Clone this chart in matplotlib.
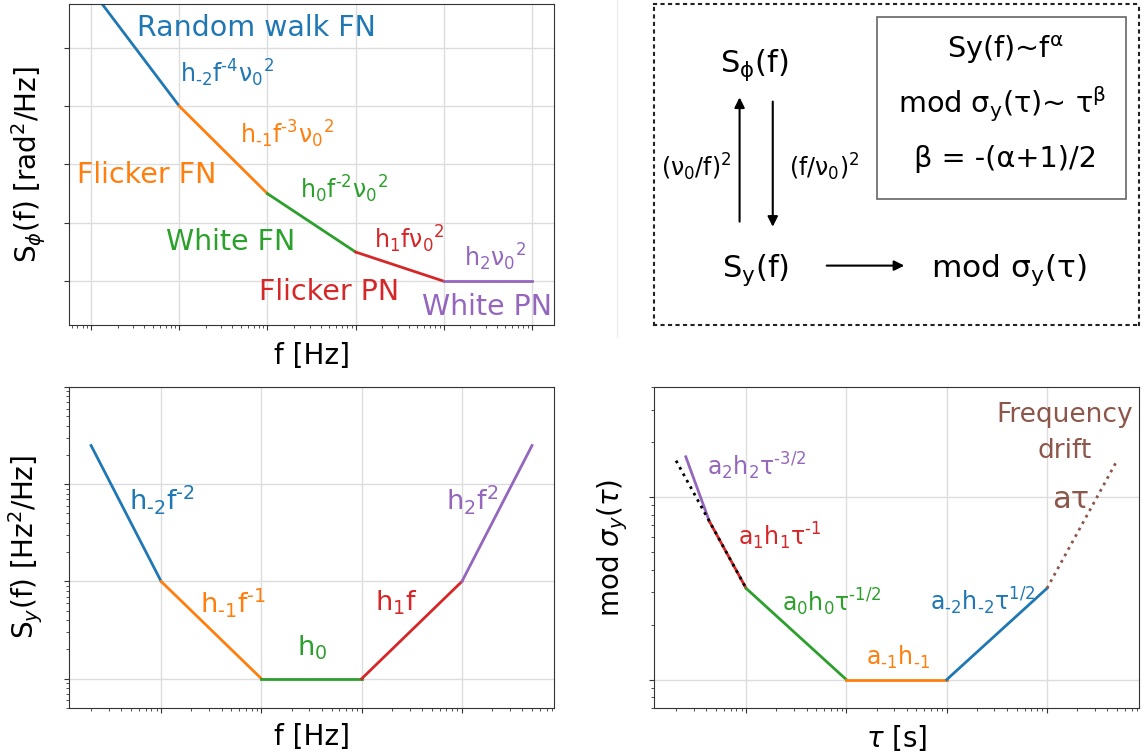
import matplotlib
matplotlib.use('Agg')
import matplotlib.pyplot as plt
from matplotlib.lines import Line2D
from matplotlib.patches import Rectangle
from matplotlib.ticker import NullLocator

# colours of the noise types
colors = ['tab:blue', 'tab:orange', 'tab:green', 'tab:red', 'tab:purple']

# phase noise PSD, corner points (random walk FN ... white PN)
sphi_f = [1, 10, 100, 1000, 1e4, 1e5]
sphi = [1e10, 1e6, 1e3, 10, 1, 1]
sphi_names = ['Random walk FN', 'Flicker FN', 'White FN', 'Flicker PN', 'White PN']
sphi_terms = ['h$_{‐2}$f$^{‐4}$ν$_0$$^2$', 'h$_{‐1}$f$^{‐3}$ν$_0$$^2$',
              'h$_0$f$^{‐2}$ν$_0$$^2$', 'h$_1$fν$_0$$^2$', 'h$_2$ν$_0$$^2$']

# fractional frequency PSD, corner points
sy_f = [0.2, 1, 10, 100, 1000, 5000]
sy = [250, 10, 1, 1, 10, 250]
sy_terms = ['h$_{‐2}$f$^{‐2}$', 'h$_{‐1}$f$^{‐1}$', 'h$_0$', 'h$_1$f', 'h$_2$f$^2$']

# modified Allan deviation, corner points
tau = [0.25, 0.43, 1, 10, 100, 1000]
mdev = [16.6, 7.35, 3.16, 1, 1, 3.16]
mdev_colors = ['tab:purple', 'tab:red', 'tab:green', 'tab:orange', 'tab:blue']
mdev_terms = ['a$_2$h$_2$τ$^{‐3/2}$', 'a$_1$h$_1$τ$^{‐1}$', 'a$_0$h$_0$τ$^{‐1/2}$',
              'a$_{‐1}$h$_{‐1}$', 'a$_{‐2}$h$_{‐2}$τ$^{1/2}$']
# tau^-1 reference line and linear drift
tau_ref = [0.2, 1]
mdev_ref = [15.8, 3.16]
tau_drift = [1000, 5000]
mdev_drift = [3.16, 15.8]


def style(ax):
    ax.set_xscale('log')
    ax.set_yscale('log')
    ax.grid(True, which='major', color='#dddddd', lw=1)
    ax.set_axisbelow(True)
    ax.tick_params(which='both', labelbottom=False, labelleft=False, color='#333333')
    for s in ax.spines.values():
        s.set_color('#333333')


fig = plt.figure(figsize=(11.45, 7.53), dpi=100)
ax1 = fig.add_axes([0.0603, 0.5684, 0.4236, 0.4263])
ax2 = fig.add_axes([0.5712, 0.5684, 0.4236, 0.4263])
ax3 = fig.add_axes([0.0603, 0.0598, 0.4236, 0.4263])
ax4 = fig.add_axes([0.5712, 0.0598, 0.4236, 0.4263])

# ---- S_phi(f)
style(ax1)
for i in range(len(sphi_f) - 1):
    ax1.plot(sphi_f[i:i + 2], sphi[i:i + 2], color=colors[i], lw=2)
ax1.set_ylim(10 ** -1.5, 10 ** 9.5)
ax1.set_yticks([1, 1e2, 1e4, 1e6, 1e8])
ax1.yaxis.set_minor_locator(NullLocator())
ax1.tick_params(which='both', labelleft=False)
ax1.set_xlabel('f [Hz]', fontsize=20, labelpad=9)
ax1.set_ylabel('S$_\\phi$(f) [rad$^2$/Hz]', fontsize=20, labelpad=12)

name_pos = [(0.1396, 0.900), (0.0158, 0.443), (0.199, 0.234), (0.392, 0.078), (0.728, 0.031)]
term_pos = [(0.2289, 0.757), (0.3526, 0.567), (0.476, 0.395), (0.629, 0.240), (0.814, 0.182)]
for i in range(5):
    ax1.text(*name_pos[i], sphi_names[i], color=colors[i], fontsize=20.5,
             transform=ax1.transAxes, ha='left', va='baseline')
    ax1.text(*term_pos[i], sphi_terms[i], color=colors[i], fontsize=17,
             transform=ax1.transAxes, ha='left', va='baseline')

# ---- conversion diagram
ax2.set_xticks([])
ax2.set_yticks([])
ax2.set_xlim(0, 1)
ax2.set_ylim(0, 1)
for s in ax2.spines.values():
    s.set_linestyle((0, (1.0, 2.6)))
    s.set_linewidth(1.5)
    s.set_color('#222222')

ax2.text(0.2076, 0.789, 'S$_\\mathrm{\\phi}$(f)', fontsize=22, ha='center', va='baseline')
ax2.text(0.210, 0.150, 'S$_\\mathrm{y}$(f)', fontsize=22, ha='center', va='baseline')
ax2.text(0.7306, 0.150, 'mod σ$_\\mathrm{y}$(τ)', fontsize=22.5, ha='center', va='baseline')
ax2.text(0.0868, 0.464, '(ν$_0$/f)$^2$', fontsize=17, ha='center', va='baseline')
ax2.text(0.350, 0.464, '(f/ν$_0$)$^2$', fontsize=17, ha='center', va='baseline')
arrow = dict(arrowstyle='-|>', color='k', lw=1.5, mutation_scale=15, shrinkA=0, shrinkB=0)
ax2.annotate('', xy=(0.1764, 0.709), xytext=(0.1764, 0.322), arrowprops=arrow)
ax2.annotate('', xy=(0.2448, 0.306), xytext=(0.2448, 0.696), arrowprops=arrow)
ax2.annotate('', xy=(0.516, 0.185), xytext=(0.356, 0.185), arrowprops=arrow)

ax2.add_patch(Rectangle((0.459, 0.392), 0.515, 0.5666, fill=False,
                        edgecolor='#666666', lw=1.2))
ax2.text(0.725, 0.831, 'Sy(f)~f$^\\mathrm{\\alpha}$', fontsize=20.7, ha='center', va='baseline')
ax2.text(0.717, 0.6595, 'mod σ$_\\mathrm{y}$(τ)~ τ$^\\mathrm{\\beta}$', fontsize=20.7,
         ha='center', va='baseline')
ax2.text(0.724, 0.493, 'β = -(α+1)/2', fontsize=20.7, ha='center', va='baseline')

fig.add_artist(Line2D([0.5389, 0.5389], [1.0, 0.5525], color='#eeeeee', lw=1))

# ---- S_y(f)
style(ax3)
for i in range(len(sy_f) - 1):
    ax3.plot(sy_f[i:i + 2], sy[i:i + 2], color=colors[i], lw=2)
ax3.set_ylim(0.5, 1000)
ax3.set_xlabel('f [Hz]', fontsize=20, labelpad=7)
ax3.set_ylabel('S$_y$(f) [Hz$^2$/Hz]', fontsize=20, labelpad=13.5)
sy_pos = [(0.124, 0.617), (0.270, 0.296), (0.471, 0.163), (0.630, 0.305), (0.778, 0.619)]
for i in range(5):
    ax3.text(*sy_pos[i], sy_terms[i], color=colors[i], fontsize=19.5,
             transform=ax3.transAxes, ha='left', va='baseline')

# ---- mod sigma_y(tau)
style(ax4)
for i in range(len(tau) - 1):
    ax4.plot(tau[i:i + 2], mdev[i:i + 2], color=mdev_colors[i], lw=2)
ax4.plot(tau_ref, mdev_ref, color='k', lw=2, ls=':')
ax4.plot(tau_drift, mdev_drift, color='tab:brown', lw=2, ls=':')
ax4.set_ylim(0.7, 40)
ax4.set_xlabel('$\\tau$ [s]', fontsize=20, labelpad=7)
ax4.set_ylabel('mod $\\sigma_y(\\tau)$', fontsize=20, labelpad=13.5)
mdev_pos = [(0.109, 0.726), (0.174, 0.508), (0.264, 0.300), (0.437, 0.134), (0.569, 0.305)]
for i in range(5):
    ax4.text(*mdev_pos[i], mdev_terms[i], color=mdev_colors[i], fontsize=17,
             transform=ax4.transAxes, ha='left', va='baseline')
ax4.text(0.847, 0.778, 'Frequency\ndrift', color='tab:brown', fontsize=19,
         linespacing=1.5, transform=ax4.transAxes, ha='center', va='baseline')
ax4.text(0.820, 0.622, 'aτ', color='tab:brown', fontsize=22,
         transform=ax4.transAxes, ha='left', va='baseline')

fig.savefig('out.png', dpi=100)
